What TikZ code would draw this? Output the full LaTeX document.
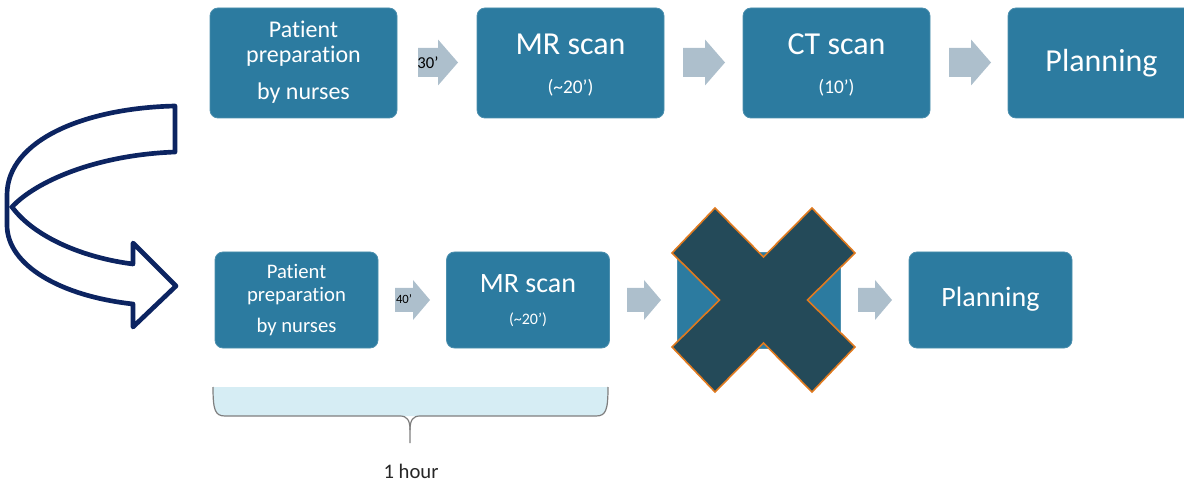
\documentclass[tikz,border=0pt]{standalone}
\usepackage{fontspec}
\setmainfont[RawFeature=-liga]{Carlito}
\usetikzlibrary{calc}

\definecolor{boxc}{HTML}{2C7BA0}
\definecolor{arrc}{HTML}{ADBFCC}
\definecolor{xfill}{HTML}{244A59}
\definecolor{xedge}{HTML}{E07A1F}
\definecolor{navy}{HTML}{0C2461}
\definecolor{bracefill}{HTML}{D6EDF4}
\definecolor{bracec}{HTML}{7F7F7F}
\definecolor{ink}{HTML}{262626}

% block arrow: left x, right x, mid y, body half-height, head half-height, head length
\newcommand\blockarrow[6]{%
  \fill[arrc] (#1,{#3-#4}) -- ({#2-#6},{#3-#4}) -- ({#2-#6},{#3-#5}) -- (#2,#3)
    -- ({#2-#6},{#3+#5}) -- ({#2-#6},{#3+#4}) -- (#1,{#3+#4}) -- cycle;}

\begin{document}
\begin{tikzpicture}[x=0.75pt,y=-0.75pt,
  stage/.style={fill=boxc, draw=boxc!85!white, line width=0.6pt, rounded corners=6pt, inner sep=0pt},
  bigstage/.style={stage, minimum width=140.25pt, minimum height=82.5pt},
  smallstage/.style={stage, minimum width=122.25pt, minimum height=72pt},
  lbl/.style={text=white, inner sep=0pt, anchor=base},
  topmid/.style={lbl, font=\fontsize{18}{20}\selectfont},
  topbig/.style={lbl, font=\fontsize{24}{28}\selectfont},
  topsmall/.style={lbl, font=\fontsize{14.5}{16}\selectfont},
  lowmid/.style={lbl, font=\fontsize{15.5}{18}\selectfont},
  lowbig/.style={lbl, font=\fontsize{21}{24}\selectfont},
  lowsmall/.style={lbl, font=\fontsize{12}{14}\selectfont},
  arrowtext/.style={text=black, inner sep=0pt}
]
\useasboundingbox (0,0) rectangle (1184,484);

% ---------- current workflow ----------
\node[bigstage] (p1) at (303.5,63) {};
\node[topmid] (p1a) at (303.5,38) {Patient};
\node[topmid] (p1b) at (303.5,63) {preparation};
\node[topmid] (p1c) at (303.5,100) {by nurses};

\blockarrow{418}{458}{62.5}{14.5}{23}{20}
\node[arrowtext, font=\fontsize{12.5}{14}\selectfont] (t30) at (428,62.5) {30’};

\node[bigstage] (m1) at (570.5,63) {};
\node[topbig] (m1a) at (570.5,55) {MR scan};
\node[topsmall] (m1b) at (570.5,94) {(\char"7E 20’)};

\blockarrow{683}{725}{62.5}{14.5}{23}{20}

\node[bigstage] (c1) at (836.5,63) {};
\node[topbig] (c1a) at (836.5,55) {CT scan};
\node[topsmall] (c1b) at (836.5,94) {(10’)};

\blockarrow{949}{991}{62.5}{14.5}{23}{20}

\node[bigstage] (pl1) at (1101.5,63) {};
\node[topbig] (pl1a) at (1101.5,72) {Planning};

% ---------- proposed workflow ----------
\node[smallstage] (p2) at (296.5,300) {};
\node[lowmid] (p2a) at (296.5,279) {Patient};
\node[lowmid] (p2b) at (296.5,302) {preparation};
\node[lowmid] (p2c) at (296.5,333) {by nurses};

\blockarrow{395}{430}{300}{12}{20}{17}
\node[arrowtext, font=\fontsize{9.5}{11}\selectfont] (t40) at (404,299) {40’};

\node[smallstage] (m2) at (528,300) {};
\node[lowbig] (m2a) at (528,293) {MR scan};
\node[lowsmall] (m2b) at (528,325) {(\char"7E 20’)};

\blockarrow{627}{661}{300}{12}{20}{17}

\node[smallstage, rounded corners=0pt] (x2) at (759,300) {};

% crossed-out step
\filldraw[fill=xfill, draw=xedge, line width=1.2pt, line join=miter]
  (715,208) -- (763.5,257) -- (812,208) -- (855,253) -- (807.5,300) -- (855,347)
  -- (812,392) -- (763.5,343) -- (715,392) -- (672,347) -- (719.5,300) -- (672,253) -- cycle;

\blockarrow{858}{892}{300}{12}{20}{17}

\node[smallstage] (pl2) at (990.5,300) {};
\node[lowbig] (pl2a) at (990.5,307) {Planning};

% ---------- duration brace ----------
\fill[bracefill] (213,387) .. controls (213,410) and (215,416) .. (225,416)
  -- (596,416) .. controls (606,416) and (608,410) .. (608,387) -- cycle;
\draw[bracec, line width=0.9pt]
  (213,387) .. controls (213,410) and (215,416) .. (225,416) -- (400,416)
  .. controls (407,416) and (410,420) .. (410,430) -- (410,443);
\draw[bracec, line width=0.9pt]
  (410,430) .. controls (410,420) and (413,416) .. (420,416) -- (596,416)
  .. controls (606,416) and (608,410) .. (608,387);
\node[text=ink, font=\fontsize{15.5}{18}\selectfont, inner sep=0pt] (hour) at (411,471) {1 hour};

% ---------- curved transition arrow ----------
\draw[navy, line width=3.5pt, line join=round]
  (175,106) -- (175,152) .. controls (95,155) and (35,182) .. (12,207)
  .. controls (35,238) and (85,258) .. (133,264) -- (133,243) -- (176,286)
  -- (133,327) -- (133,304) .. controls (60,296) and (7,265) .. (7,225)
  -- (7,195) .. controls (7,140) and (85,108) .. (175,106) -- cycle;
\end{tikzpicture}
\end{document}
